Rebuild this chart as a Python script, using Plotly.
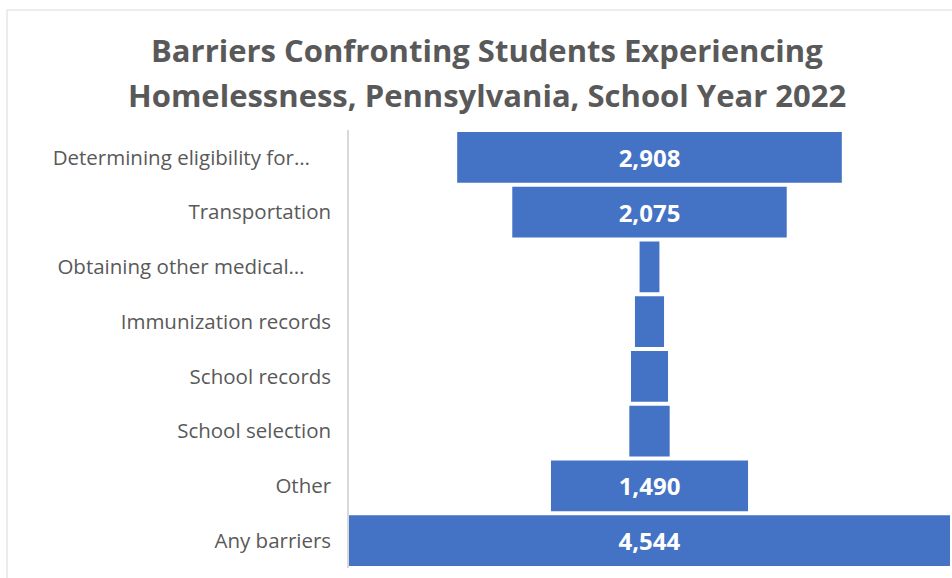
import plotly.graph_objects as go

# Barrier categories (top to bottom) and number of students reporting each
categories = [
    "Determining eligibility for…",
    "Transportation",
    "Obtaining other medical…",
    "Immunization records",
    "School records",
    "School selection",
    "Other",
    "Any barriers",
]
students = [2908, 2075, 150, 220, 280, 305, 1490, 4544]

title_lines = [
    "Barriers Confronting Students Experiencing",
    "Homelessness, Pennsylvania, School Year 2022",
]

# Only bars wide enough to hold a label get one
labels = [f"{v:,}" if v >= 1000 else "" for v in students]

# truncated names sit a little left of the others
NBSP = "\u00a0"
tick_text = [
    c + NBSP * (4 if c.startswith("Determining") else 5) if c.endswith("…") else c
    for c in categories
]

BAR_COLOR = "#4472C4"
TEXT_GREY = "#595959"
FONT = "Open Sans"

fig = go.Figure(
    go.Funnel(
        y=categories,
        x=students,
        text=labels,
        texttemplate="%{text}",
        textposition="inside",
        insidetextanchor="middle",
        textfont=dict(family=FONT, size=24, color="white", weight="bold"),
        marker=dict(color=BAR_COLOR),
        connector=dict(visible=False),
        hoverinfo="y+x",
    )
)

W, H = 952, 578
L, R, T, B = 349, 2, 130, 10
pw, ph = W - L - R, H - T - B

# two-line title placed as annotations (pixel positions from the top)
title_annotations = [
    dict(
        text=line,
        xref="paper",
        yref="paper",
        x=(487 - L) / pw,
        y=1 + (T - yc) / ph,
        xanchor="center",
        yanchor="middle",
        showarrow=False,
        font=dict(family=FONT, size=31, color=TEXT_GREY, weight="bold"),
    )
    for line, yc in zip(title_lines, [50, 95])
]

fig.update_layout(
    width=W,
    height=H,
    margin=dict(l=L, r=R, t=T, b=B),
    paper_bgcolor="white",
    plot_bgcolor="white",
    funnelgap=0.07,
    showlegend=False,
    annotations=title_annotations,
    xaxis=dict(
        visible=False,
        range=[-max(students) / 2, max(students) / 2],
    ),
    yaxis=dict(
        showline=True,
        linecolor="#d9d9d9",
        linewidth=1.5,
        ticks="",
        ticklabelstandoff=12,
        tickmode="array",
        tickvals=categories,
        ticktext=tick_text,
        tickfont=dict(family=FONT, size=20.5, color=TEXT_GREY),
        showgrid=False,
    ),
    shapes=[
        # light frame around the chart area
        dict(
            type="rect",
            xref="paper",
            yref="paper",
            x0=(7 - L) / pw,
            x1=(W + 10 - L) / pw,
            y0=-(B + 10) / ph,
            y1=1 + (T - 10) / ph,
            line=dict(color="#d9d9d9", width=1),
            fillcolor="rgba(0,0,0,0)",
            layer="below",
        )
    ],
)

fig.write_html("out.html")
